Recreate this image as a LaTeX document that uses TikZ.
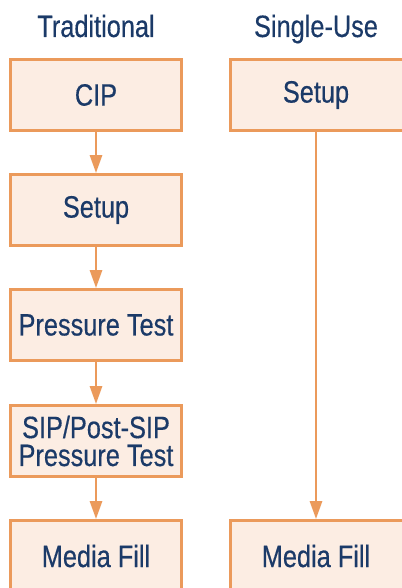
\documentclass[tikz,border=0pt]{standalone}
\usepackage{fontspec}
\setmainfont[FakeStretch=0.82,FakeBold=0.4]{Liberation Sans}
\usetikzlibrary{arrows.meta}
\definecolor{boxline}{HTML}{EB9A5B}
\definecolor{boxfill}{HTML}{FCEDE3}
\definecolor{txt}{HTML}{1B3A68}
\begin{document}
\begin{tikzpicture}[x=1bp,y=-1bp,
  every node/.style={font=\fontsize{31}{28}\selectfont, text=txt},
  stepbox/.style={draw=boxline, fill=boxfill, line width=2.8bp, rectangle,
    minimum width=171bp, minimum height=71bp, inner sep=0pt, align=center},
  widebox/.style={stepbox, minimum width=176bp},
  title/.style={anchor=base},
  arr/.style={draw=boxline, line width=2.8bp, -{Triangle[width=12bp,length=18bp]}}]
\useasboundingbox (0,0) rectangle (401,588);
\node[title] (t1) at (96,37) {Traditional};
\node[title] (t2) at (316,37) {Single-Use};
\node[stepbox] (cip) at (96,95) {CIP};
\node[stepbox] (setup) at (96,210) {Setup};
\node[stepbox] (press) at (96,325) {Pressure Test};
\node[stepbox] (sip) at (96,441) {SIP/Post-SIP\\Pressure Test};
\node[stepbox] (media) at (96,556) {Media Fill};
\node[widebox] (rsetup) at (318.5,95) {};
\node (rsetuptxt) at (316,95) {Setup};
\node[widebox] (rmedia) at (318.5,556) {};
\node (rmediatxt) at (316,556) {Media Fill};
\coordinate (c2) at (316,0);
\draw[arr] (cip) -- (setup);
\draw[arr] (setup) -- (press);
\draw[arr] (press) -- (sip);
\draw[arr] (sip) -- (media);
\draw[arr] (rsetup.south -| c2) -- (rmedia.north -| c2);
\end{tikzpicture}
\end{document}
